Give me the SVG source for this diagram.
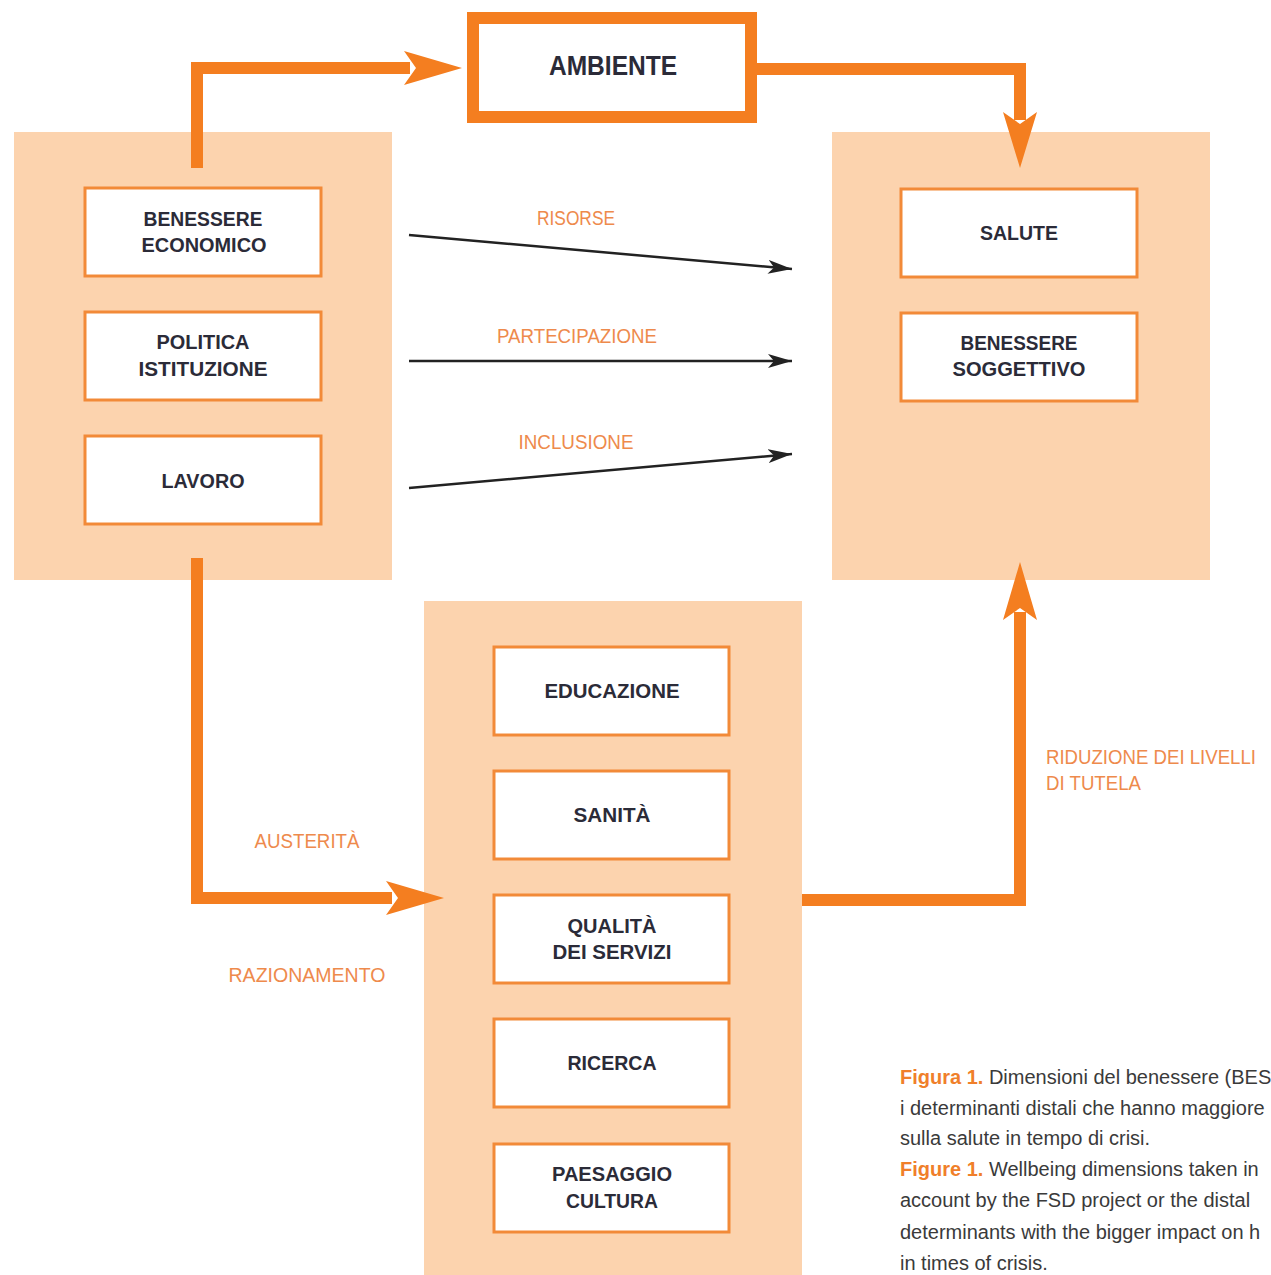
<svg xmlns="http://www.w3.org/2000/svg" width="1271" height="1275" viewBox="0 0 1271 1275">
<style>
.panel{fill:#FCD3AE}
.box{fill:#FFFFFF;stroke:#F28A38;stroke-width:3}
.t{font-family:"Liberation Sans",Arial,sans-serif;font-weight:bold;font-size:21px;fill:#2B2B38;text-anchor:middle}
.lab{font-family:"Liberation Sans",Arial,sans-serif;font-size:20px;fill:#EE8A4C;text-anchor:middle}
.thick{fill:none;stroke:#F47E20;stroke-width:12;stroke-linejoin:miter;stroke-linecap:butt}
.thin{fill:none;stroke:#222222;stroke-width:2.5}
.head{fill:#F47E20}
.cap{font-family:"Liberation Sans",Arial,sans-serif;font-size:20px;fill:#3A3A3A}
.capo{fill:#F07F2A;font-weight:bold}
</style>
<defs>
<marker id="blk" viewBox="0 0 24 14" refX="24" refY="7" markerWidth="24" markerHeight="14" markerUnits="userSpaceOnUse" orient="auto">
<path d="M0,0 L24,7 L0,14 L6,7 Z" fill="#222222"/>
</marker>
</defs>
<rect width="1271" height="1275" fill="#FFFFFF"/>

<g id="panel-left"><rect class="panel" x="14" y="132" width="378" height="448"/></g>
<g id="panel-right"><rect class="panel" x="832" y="132" width="378" height="448"/></g>
<g id="panel-bottom"><rect class="panel" x="424" y="601" width="378" height="674"/></g>

<g id="connectors">
<path class="thick" d="M197,168 V68 H410"/>
<polygon class="head" points="462,68 404,51 416,68 404,85"/>
<path class="thick" d="M757,69 H1020 V120"/>
<polygon class="head" points="1020,168 1003,112 1020,124 1037,112"/>
<path class="thick" d="M197,558 V898 H392"/>
<polygon class="head" points="444,898 386,881 398,898 386,915"/>
<path class="thick" d="M802,900 H1020 V612"/>
<polygon class="head" points="1020,562 1003,620 1020,608 1037,620"/>
<line class="thin" x1="409" y1="235" x2="792" y2="269" marker-end="url(#blk)"/>
<line class="thin" x1="409" y1="361" x2="792" y2="361" marker-end="url(#blk)"/>
<line class="thin" x1="409" y1="488" x2="792" y2="454" marker-end="url(#blk)"/>
<text class="lab" x="576" y="225" textLength="78" lengthAdjust="spacingAndGlyphs">RISORSE</text>
<text class="lab" x="577" y="343" textLength="160" lengthAdjust="spacingAndGlyphs">PARTECIPAZIONE</text>
<text class="lab" x="576" y="449" textLength="115" lengthAdjust="spacingAndGlyphs">INCLUSIONE</text>
<text class="lab" x="307" y="848" textLength="105" lengthAdjust="spacingAndGlyphs">AUSTERITÀ</text>
<text class="lab" x="307" y="982" textLength="157" lengthAdjust="spacingAndGlyphs">RAZIONAMENTO</text>
<text class="lab" x="1046" y="764" style="text-anchor:start" textLength="210" lengthAdjust="spacingAndGlyphs">RIDUZIONE DEI LIVELLI</text>
<text class="lab" x="1046" y="790" style="text-anchor:start" textLength="95" lengthAdjust="spacingAndGlyphs">DI TUTELA</text>
</g>

<g id="ambiente">
<rect x="473" y="18" width="278" height="99" fill="#FFFFFF" stroke="#F47E20" stroke-width="12"/>
<text class="t" x="613" y="75" style="font-size:27px" textLength="128" lengthAdjust="spacingAndGlyphs">AMBIENTE</text>
</g>

<g id="benessere-economico">
<rect class="box" x="85" y="188" width="236" height="88"/>
<text class="t" x="203" y="226" textLength="119" lengthAdjust="spacingAndGlyphs">BENESSERE</text>
<text class="t" x="204" y="252" textLength="125" lengthAdjust="spacingAndGlyphs">ECONOMICO</text>
</g>
<g id="politica-istituzione">
<rect class="box" x="85" y="312" width="236" height="88"/>
<text class="t" x="203" y="349" textLength="93" lengthAdjust="spacingAndGlyphs">POLITICA</text>
<text class="t" x="203" y="376" textLength="129" lengthAdjust="spacingAndGlyphs">ISTITUZIONE</text>
</g>
<g id="lavoro">
<rect class="box" x="85" y="436" width="236" height="88"/>
<text class="t" x="203" y="488" textLength="83" lengthAdjust="spacingAndGlyphs">LAVORO</text>
</g>

<g id="salute">
<rect class="box" x="901" y="189" width="236" height="88"/>
<text class="t" x="1019" y="240" textLength="78" lengthAdjust="spacingAndGlyphs">SALUTE</text>
</g>
<g id="benessere-soggettivo">
<rect class="box" x="901" y="313" width="236" height="88"/>
<text class="t" x="1019" y="350" textLength="117" lengthAdjust="spacingAndGlyphs">BENESSERE</text>
<text class="t" x="1019" y="376" textLength="133" lengthAdjust="spacingAndGlyphs">SOGGETTIVO</text>
</g>

<g id="educazione">
<rect class="box" x="494" y="647" width="235" height="88"/>
<text class="t" x="612" y="698" textLength="135" lengthAdjust="spacingAndGlyphs">EDUCAZIONE</text>
</g>
<g id="sanita">
<rect class="box" x="494" y="771" width="235" height="88"/>
<text class="t" x="612" y="822" textLength="77" lengthAdjust="spacingAndGlyphs">SANITÀ</text>
</g>
<g id="qualita-servizi">
<rect class="box" x="494" y="895" width="235" height="88"/>
<text class="t" x="612" y="933" textLength="89" lengthAdjust="spacingAndGlyphs">QUALITÀ</text>
<text class="t" x="612" y="959" textLength="119" lengthAdjust="spacingAndGlyphs">DEI SERVIZI</text>
</g>
<g id="ricerca">
<rect class="box" x="494" y="1019" width="235" height="88"/>
<text class="t" x="612" y="1070" textLength="89" lengthAdjust="spacingAndGlyphs">RICERCA</text>
</g>
<g id="paesaggio-cultura">
<rect class="box" x="494" y="1144" width="235" height="88"/>
<text class="t" x="612" y="1181" textLength="120" lengthAdjust="spacingAndGlyphs">PAESAGGIO</text>
<text class="t" x="612" y="1208" textLength="92" lengthAdjust="spacingAndGlyphs">CULTURA</text>
</g>

<g id="caption">
<text class="cap" x="900" y="1084"><tspan class="capo">Figura 1.</tspan> Dimensioni del benessere (BES</text>
<text class="cap" x="900" y="1115">i determinanti distali che hanno maggiore</text>
<text class="cap" x="900" y="1145">sulla salute in tempo di crisi.</text>
<text class="cap" x="900" y="1176"><tspan class="capo">Figure 1.</tspan> Wellbeing dimensions taken in</text>
<text class="cap" x="900" y="1207">account by the FSD project or the distal</text>
<text class="cap" x="900" y="1239">determinants with the bigger impact on h</text>
<text class="cap" x="900" y="1270">in times of crisis.</text>
</g>
</svg>
